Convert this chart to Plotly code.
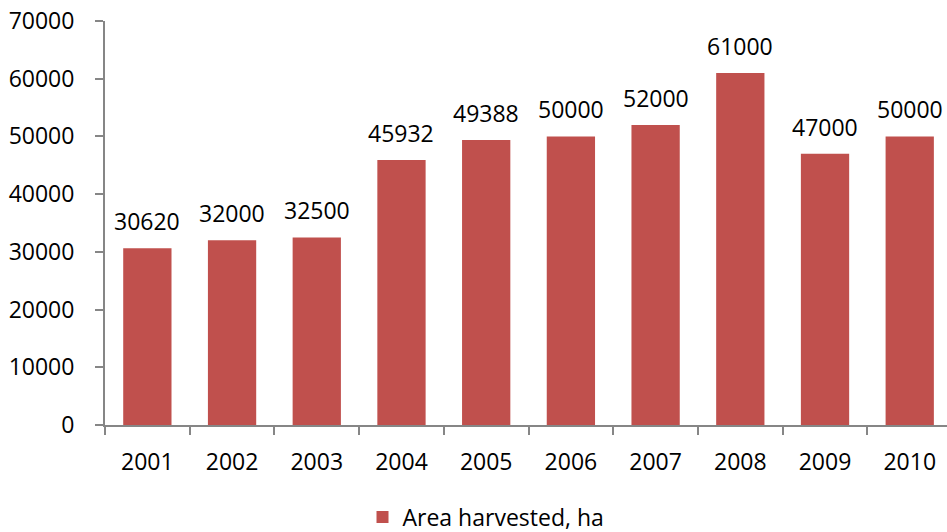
import plotly.graph_objects as go

years = ["2001", "2002", "2003", "2004", "2005", "2006", "2007", "2008", "2009", "2010"]
area = [30620, 32000, 32500, 45932, 49388, 50000, 52000, 61000, 47000, 50000]
series_name = "Area harvested, ha"
y_ticks = [0, 10000, 20000, 30000, 40000, 50000, 60000, 70000]

FONT = "Open Sans"
FS = 23
fig = go.Figure()
fig.add_trace(go.Bar(
    x=years, y=area, name=series_name,
    marker=dict(color="#C0504D", line=dict(width=0)),
    showlegend=True,
))
for i, v in enumerate(area):
    fig.add_annotation(x=i, y=v, xref="x", yref="y", text=str(v), showarrow=False,
                       yanchor="bottom", xanchor="center", yshift=9,
                       font=dict(family=FONT, size=FS, color="#000000"))
fig.update_layout(
    width=947, height=532,
    margin=dict(l=105, r=0, t=21, b=107, autoexpand=False),
    paper_bgcolor="white", plot_bgcolor="white",
    bargap=0.43,
    font=dict(family=FONT, size=FS, color="#000000"),
    showlegend=True,
    legend=dict(orientation="h", x=0.4525, xanchor="center", yref="container",
                y=0.028, yanchor="middle", itemwidth=30,
                font=dict(family=FONT, size=FS, color="#000000")),
)
fig.update_xaxes(
    type="category", range=[-0.5, 9.44],
    showline=True, linecolor="#868686", linewidth=2,
    ticks="outside", tickson="boundaries", ticklen=8, tickcolor="#868686", tickwidth=2,
    showgrid=False, ticklabelstandoff=15,
    tickfont=dict(family=FONT, size=FS, color="#000000"),
)
fig.update_yaxes(
    range=[0, 70000], tickvals=y_ticks, ticktext=[str(v) for v in y_ticks],
    showline=True, linecolor="#868686", linewidth=2,
    ticks="outside", ticklen=8, tickcolor="#868686", tickwidth=2,
    showgrid=False, zeroline=False, ticklabelstandoff=16,
    tickfont=dict(family=FONT, size=FS, color="#000000"),
)
fig.write_html("out.html")
